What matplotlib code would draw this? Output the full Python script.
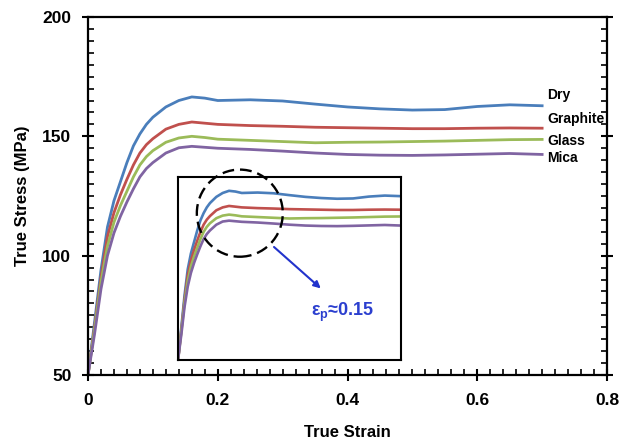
import matplotlib.pyplot as plt
from matplotlib.patches import Ellipse
from matplotlib.ticker import MultipleLocator

plt.rcParams['font.family'] = ['Liberation Sans', 'DejaVu Sans']
plt.rcParams['font.weight'] = 'bold'
plt.rcParams['mathtext.fontset'] = 'custom'
plt.rcParams['mathtext.bf'] = 'Liberation Sans:bold'
plt.rcParams['mathtext.rm'] = 'Liberation Sans:bold'

strain = [0, 0.01, 0.02, 0.03, 0.04, 0.05, 0.06, 0.07, 0.08, 0.09, 0.10, 0.12, 0.14, 0.16,
          0.18, 0.20, 0.25, 0.30, 0.35, 0.40, 0.45, 0.50, 0.55, 0.60, 0.65, 0.70]
dry = [50, 72, 94, 112, 123, 131, 139, 146, 151, 155, 158, 162.3, 165, 166.5,
       166, 165, 165.3, 164.8, 163.5, 162.3, 161.5, 161, 161.2, 162.5, 163.2, 162.8]
graphite = [50, 70, 91, 108, 118, 125.5, 132, 138, 143, 146.5, 149, 153, 155, 156,
            155.5, 155, 154.5, 154.2, 153.8, 153.6, 153.4, 153.2, 153.2, 153.4, 153.5, 153.4]
glass = [50, 69, 89, 104, 114, 121, 127, 133, 138, 141.5, 144, 147.5, 149.3, 150,
         149.5, 148.8, 148.3, 147.8, 147.3, 147.5, 147.6, 147.8, 148, 148.3, 148.6, 148.7]
mica = [50, 67, 86, 100, 109.5, 116.5, 122.5, 128, 133, 136.5, 139, 143, 145.2, 145.8,
        145.4, 145, 144.5, 143.8, 143, 142.4, 142.1, 142, 142.2, 142.5, 142.8, 142.4]

names = ['Dry', 'Graphite', 'Glass', 'Mica']
series = [dry, graphite, glass, mica]
colors = ['#4A7EBB', '#C0504D', '#9BBB59', '#8064A2']
label_y = [167.2, 157.1, 147.9, 140.9]

fig = plt.figure(figsize=(6.35, 4.41), dpi=100)
ax = fig.add_axes([0.1386, 0.1497, 0.8173, 0.8118])

for s, c in zip(series, colors):
    ax.plot(strain, s, color=c, lw=2)

for n, y in zip(names, label_y):
    ax.text(0.708, y, n, fontsize=10, fontweight='bold', va='center', ha='left')

ax.set_xlim(0, 0.8)
ax.set_ylim(50, 200)
ax.set_xticks([0, 0.2, 0.4, 0.6, 0.8])
ax.set_xticklabels(['0', '0.2', '0.4', '0.6', '0.8'])
ax.set_yticks([50, 100, 150, 200])
ax.xaxis.set_minor_locator(MultipleLocator(0.02))
ax.yaxis.set_minor_locator(MultipleLocator(5))
ax.tick_params(which='major', direction='inout', length=8, width=1.5, labelsize=12.5,
               right=True, top=False)
ax.tick_params(axis='x', which='major', pad=9)
ax.tick_params(axis='y', which='major', pad=8)
ax.tick_params(which='minor', direction='in', length=4, width=1.2, right=True, top=False)
for sp in ax.spines.values():
    sp.set_linewidth(1.6)
ax.set_xlabel('True Strain', fontsize=12, fontweight='bold', labelpad=12)
ax.set_ylabel('True Stress (MPa)', fontsize=12, fontweight='bold', labelpad=9)

# inset
ins = ax.inset_axes([0.139, 56.2, 0.343, 76.7], transform=ax.transData)
for s, c in zip(series, colors):
    ins.plot(strain, s, color=c, lw=1.9)
ins.set_xlim(0, 0.7)
ins.set_ylim(49, 176)
ins.set_xticks([])
ins.set_yticks([])
for sp in ins.spines.values():
    sp.set_linewidth(1.5)

circ = Ellipse((0.234, 117.8), 0.1325, 36.5, fill=False, ls=(0, (5, 2.5)), lw=1.7,
               color='black', zorder=8, clip_on=False)
ax.add_patch(circ)
ax.annotate('', xy=(0.362, 85.5), xytext=(0.2835, 104.4),
            arrowprops=dict(arrowstyle='-|>', color='#2233CC', lw=1.5), zorder=8)
ax.text(0.392, 76.3, r'$\mathbf{ε_p}$≈0.15', color='#2B3FCF', fontsize=13,
        fontweight='bold', ha='center', va='center', zorder=8)

fig.savefig('out.png', dpi=100)
